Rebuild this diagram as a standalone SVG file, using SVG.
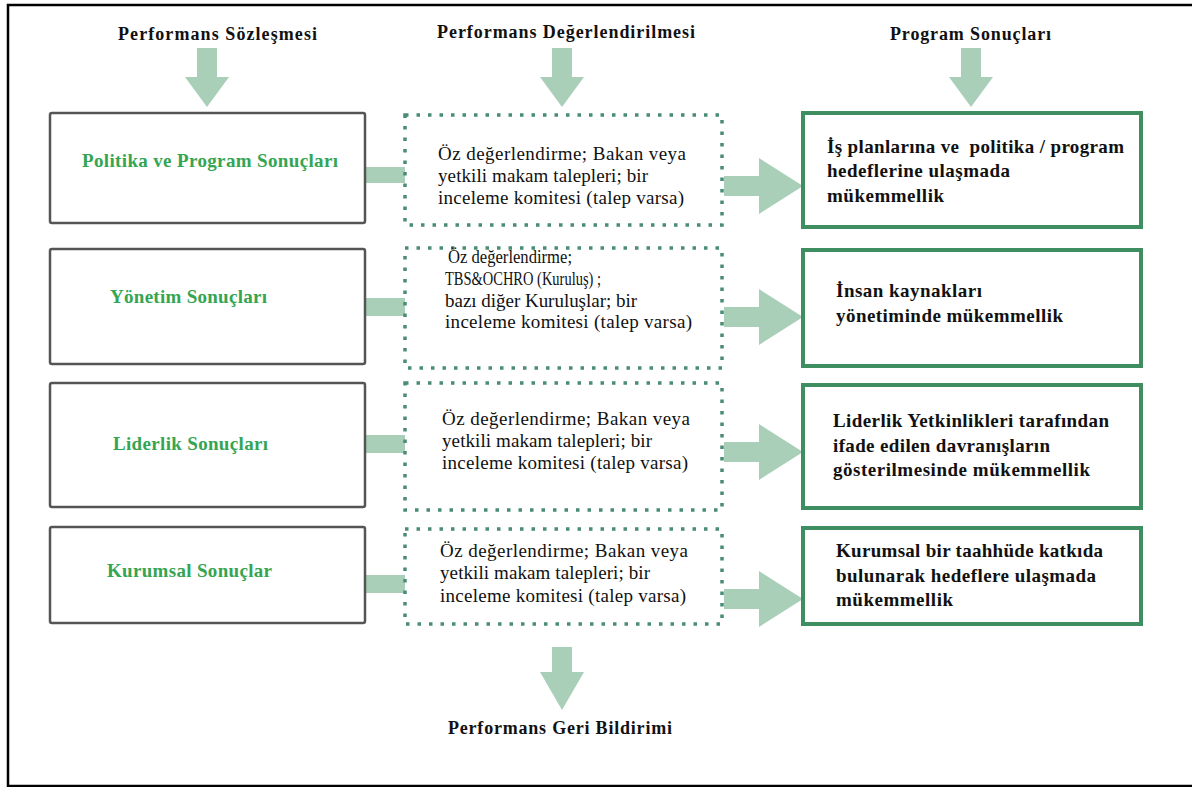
<svg xmlns="http://www.w3.org/2000/svg" width="1192" height="787" viewBox="0 0 1192 787">
<defs>
<style>
.bg{fill:#ffffff}
.frame{fill:none;stroke:#000;stroke-width:2.5}
.arrow{fill:#a9cfb9}
.lbox{fill:#fff;stroke:#555;stroke-width:2.5}
.dbox{fill:#fff;stroke:#4a8c74;stroke-width:3.5;stroke-dasharray:3.5 8}
.rbox{fill:#fff;stroke:#3e8e62;stroke-width:4}
text{font-family:'Liberation Serif','Times New Roman','DejaVu Serif',serif}
.head{font-weight:bold;font-size:18px;fill:#111}
.gl{font-weight:bold;font-size:19px;fill:#35a552}
.mt{font-size:19px;fill:#111}
.rt{font-weight:bold;font-size:19px;fill:#111}
</style>
</defs>
<rect class="bg" x="0" y="0" width="1192" height="787"/>
<rect class="frame" x="8" y="5" width="1200" height="781"/>

<g id="connectors">
<polygon class="arrow" points="197,48 217,48 217,77 229,77 207,107 185,77 197,77"/>
<polygon class="arrow" points="552,48 572,48 572,77 584,77 562,107 540,77 552,77"/>
<polygon class="arrow" points="961,48 981,48 981,77 993,77 971,107 949,77 961,77"/>
<polygon class="arrow" points="552,647 572,647 572,672 584,672 562,710 540,672 552,672"/>
<rect class="arrow" x="366" y="167" width="40" height="16"/>
<rect class="arrow" x="366" y="298" width="40" height="18"/>
<rect class="arrow" x="366" y="435" width="40" height="18"/>
<rect class="arrow" x="366" y="575" width="40" height="18"/>
<polygon class="arrow" points="724,176 759,176 759,158 803,186 759,214 759,196 724,196"/>
<polygon class="arrow" points="724,307 759,307 759,289 803,317 759,345 759,327 724,327"/>
<polygon class="arrow" points="724,442 759,442 759,424 803,452 759,480 759,462 724,462"/>
<polygon class="arrow" points="724,589 759,589 759,571 803,599 759,627 759,609 724,609"/>
</g>

<g id="header-contract"><text class="head" x="118" y="40" textLength="199">Performans Sözleşmesi</text></g>
<g id="header-evaluation"><text class="head" x="437" y="38" textLength="258">Performans Değerlendirilmesi</text></g>
<g id="header-results"><text class="head" x="890" y="40" textLength="161">Program Sonuçları</text></g>
<g id="footer-feedback"><text class="head" x="448" y="734" textLength="224">Performans Geri Bildirimi</text></g>

<g id="left-1"><rect class="lbox" x="50" y="113" width="315" height="110" rx="2"/><text class="gl" x="82" y="167" textLength="256">Politika ve Program Sonuçları</text></g>
<g id="left-2"><rect class="lbox" x="50" y="249" width="315" height="115" rx="2"/><text class="gl" x="110" y="303" textLength="157">Yönetim Sonuçları</text></g>
<g id="left-3"><rect class="lbox" x="50" y="383" width="315" height="124" rx="2"/><text class="gl" x="113" y="450" textLength="155">Liderlik Sonuçları</text></g>
<g id="left-4"><rect class="lbox" x="50" y="527" width="315" height="96" rx="2"/><text class="gl" x="107" y="577" textLength="165">Kurumsal Sonuçlar</text></g>

<g id="mid-1"><rect class="dbox" x="405" y="115" width="317" height="110"/>
<text class="mt" x="438" y="160" textLength="248">Öz değerlendirme; Bakan veya</text>
<text class="mt" x="438" y="182" textLength="210">yetkili makam talepleri; bir</text>
<text class="mt" x="438" y="204" textLength="246">inceleme komitesi (talep varsa)</text></g>
<g id="mid-2"><rect class="dbox" x="405" y="248" width="317" height="120"/>
<text class="mt" x="448" y="263" textLength="124" lengthAdjust="spacingAndGlyphs">Öz değerlendirme;</text>
<text class="mt" x="445" y="285" textLength="156" lengthAdjust="spacingAndGlyphs">TBS&amp;OCHRO (Kuruluş) ;</text>
<text class="mt" x="445" y="307" textLength="192">bazı diğer Kuruluşlar; bir</text>
<text class="mt" x="445" y="328" textLength="247">inceleme komitesi (talep varsa)</text></g>
<g id="mid-3"><rect class="dbox" x="405" y="383" width="317" height="127"/>
<text class="mt" x="442" y="425" textLength="248">Öz değerlendirme; Bakan veya</text>
<text class="mt" x="442" y="447" textLength="210">yetkili makam talepleri; bir</text>
<text class="mt" x="442" y="469" textLength="246">inceleme komitesi (talep varsa)</text></g>
<g id="mid-4"><rect class="dbox" x="405" y="529" width="317" height="95"/>
<text class="mt" x="440" y="557" textLength="248">Öz değerlendirme; Bakan veya</text>
<text class="mt" x="440" y="579" textLength="210">yetkili makam talepleri; bir</text>
<text class="mt" x="440" y="602" textLength="246">inceleme komitesi (talep varsa)</text></g>

<g id="right-1"><rect class="rbox" x="803" y="113" width="338" height="114"/>
<text class="rt" x="827" y="153" textLength="297" xml:space="preserve">İş planlarına ve  politika / program</text>
<text class="rt" x="827" y="177" textLength="183">hedeflerine ulaşmada</text>
<text class="rt" x="827" y="202" textLength="117">mükemmellik</text></g>
<g id="right-2"><rect class="rbox" x="803" y="250" width="338" height="116"/>
<text class="rt" x="836" y="297" textLength="146">İnsan kaynakları</text>
<text class="rt" x="836" y="322" textLength="227">yönetiminde mükemmellik</text></g>
<g id="right-3"><rect class="rbox" x="803" y="385" width="338" height="123"/>
<text class="rt" x="833" y="427" textLength="276">Liderlik Yetkinlikleri tarafından</text>
<text class="rt" x="833" y="452" textLength="217">ifade edilen davranışların</text>
<text class="rt" x="833" y="476" textLength="257">gösterilmesinde mükemmellik</text></g>
<g id="right-4"><rect class="rbox" x="803" y="528" width="338" height="96"/>
<text class="rt" x="836" y="557" textLength="267">Kurumsal bir taahhüde katkıda</text>
<text class="rt" x="836" y="582" textLength="260">bulunarak hedeflere ulaşmada</text>
<text class="rt" x="836" y="606" textLength="117">mükemmellik</text></g>
</svg>
